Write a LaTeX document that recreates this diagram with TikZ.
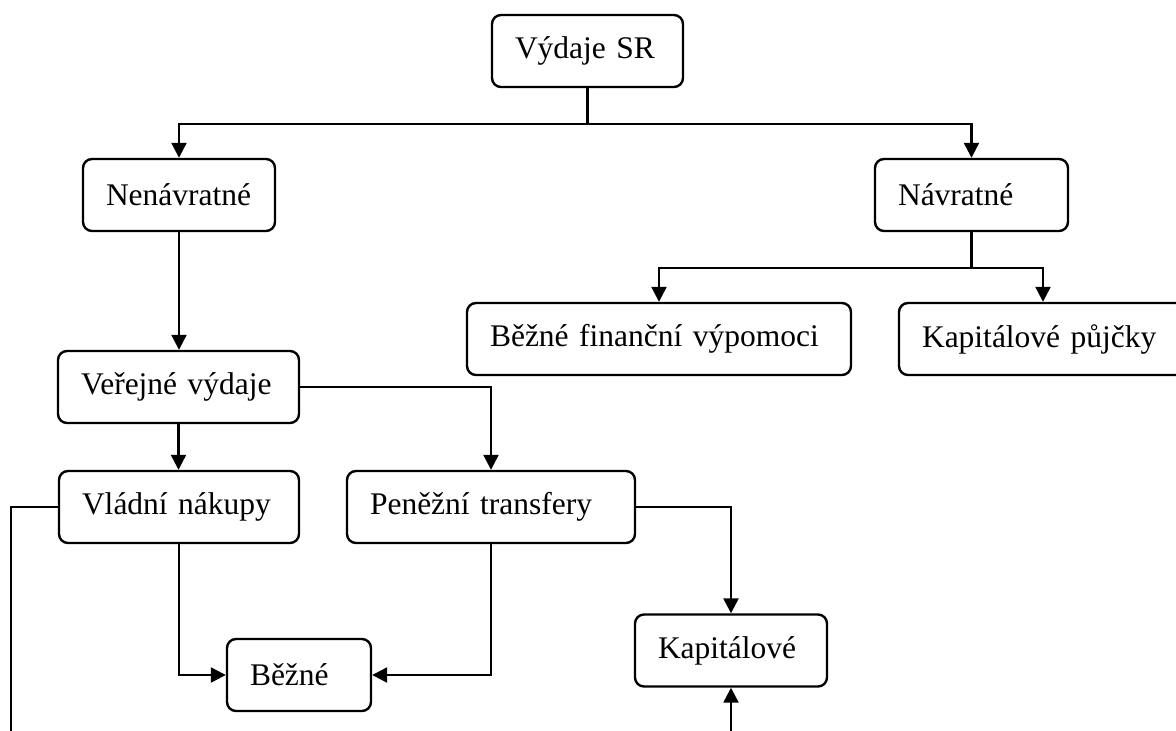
\documentclass[tikz,border=0pt]{standalone}
\usepackage{fontspec}
\setmainfont{Liberation Serif}
\usetikzlibrary{arrows.meta}
\begin{document}
\begin{tikzpicture}[x=1pt,y=-1pt, line width=2.4pt,
  box/.style={draw, rounded corners=9pt, inner xsep=23pt, inner ysep=0pt,
    minimum height=72pt, align=left, font=\fontsize{31.5}{36}\selectfont},
  arr/.style={-{Triangle[length=15pt,width=15pt]}}]
\useasboundingbox (0,0) rectangle (1176,731);
\node[box, text width=145pt] (vs)  at (587.5,51)  {Výdaje SR};
\node[box, text width=146pt] (nen) at (179,195)   {Nenávratné};
\node[box, text width=147pt] (nav) at (971.5,195) {Návratné};
\node[box, text width=338pt] (bfv) at (659,339)   {Běžné finanční výpomoci};
\node[box, text width=242pt] (kp)  at (1043,339)  {Kapitálové půjčky};
\node[box, text width=195pt] (ver) at (178.5,387) {Veřejné výdaje};
\node[box, text width=194pt] (vn)  at (179,507)   {Vládní nákupy};
\node[box, text width=242pt] (pt)  at (491,507)   {Peněžní transfery};
\node[box, text width=98pt]  (bz)  at (299,675)   {Běžné};
\node[box, text width=146pt] (kap) at (731,650.5) {Kapitálové};
\coordinate (fe1) at (11,731);
\coordinate (fe2) at (731,731);
\draw[arr] (vs.south) -- ++(0,36) -| (nen.north);
\draw[arr] (vs.south) -- ++(0,36) -| (nav.north);
\draw[arr] (nav.south) -- ++(0,36) -| (bfv.north);
\draw[arr] (nav.south) -- ++(0,36) -| (kp.north);
\draw[arr] (nen.south) -- (nen.south |- ver.north);
\draw[arr] (ver.south) -- (ver.south |- vn.north);
\draw[arr] (ver.east) -| (pt.north);
\draw (vn.west) -| (fe1);
\draw[arr] (vn.south) |- (bz.west);
\draw[arr] (pt.south) |- (bz.east);
\draw[arr] (pt.east) -| (kap.north);
\draw[arr] (fe2) -- (kap.south);
\end{tikzpicture}
\end{document}
